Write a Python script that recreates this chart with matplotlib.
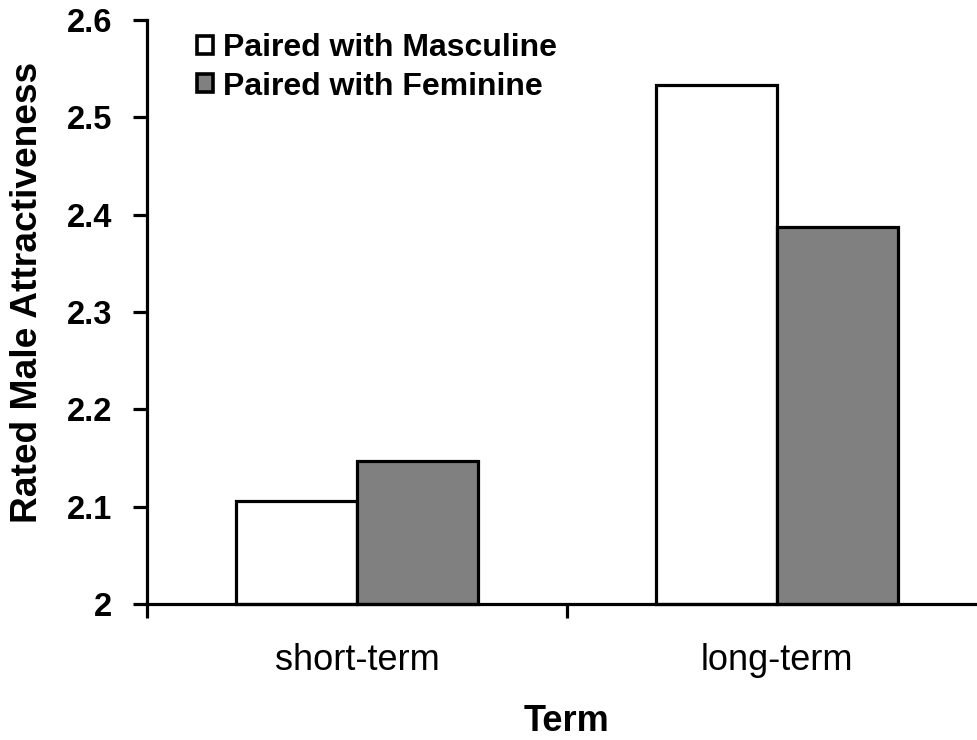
import matplotlib
matplotlib.use("Agg")
import matplotlib.pyplot as plt
import numpy as np
from matplotlib.patches import Patch

categories = ["short-term", "long-term"]
series_names = ["Paired with Masculine", "Paired with Feminine"]
masculine = [2.106, 2.533]
feminine = [2.147, 2.387]
yticks = [2.0, 2.1, 2.2, 2.3, 2.4, 2.5, 2.6]
ytick_labels = ["2", "2.1", "2.2", "2.3", "2.4", "2.5", "2.6"]

plt.rcParams['font.family'] = ['Liberation Sans', 'DejaVu Sans']

fig = plt.figure(figsize=(9.78, 7.40), dpi=100)
W, H = 978, 740
left, right, top, bottom = 147, 987, 20, 604
ax = fig.add_axes([left / W, 1 - bottom / H, (right - left) / W, (bottom - top) / H])

x = np.arange(len(categories))
bw = 0.288
lw = 2.3
ax.bar(x - bw / 2, np.array(masculine) - 2.0, bw, bottom=2.0, color="white",
       edgecolor="black", linewidth=lw, zorder=3, clip_on=False)
ax.bar(x + bw / 2, np.array(feminine) - 2.0, bw, bottom=2.0, color="#808080",
       edgecolor="black", linewidth=lw, zorder=3, clip_on=False)

ax.set_xlim(-0.5, 1.5)
ax.set_ylim(2.0, 2.6)
ax.set_yticks(yticks)
ax.set_yticklabels(ytick_labels, fontsize=23.5, fontweight="bold")
ax.set_xticks([-0.5, 0.5, 1.5])
ax.set_xticklabels([])
ax.set_xticks(x, minor=True)
ax.set_xticklabels(categories, minor=True, fontsize=26)
ax.tick_params(axis="x", which="minor", length=0, pad=28)
ax.tick_params(axis="x", which="major", length=10, width=lw, direction="out")
ax.tick_params(axis="y", length=10, width=lw, direction="out", pad=15)

for s in ["top", "right"]:
    ax.spines[s].set_visible(False)
for s in ["left", "bottom"]:
    ax.spines[s].set_linewidth(lw)
ax.spines["bottom"].set_zorder(4)

ax.set_xlabel("Term", fontsize=26, fontweight="bold")
ax.xaxis.set_label_coords(0.5, -(704 - 604) / 584)
ax.set_ylabel("Rated Male Attractiveness", fontsize=26.7, fontweight="bold")
ax.yaxis.set_label_coords(-0.1214, (604 - 292.5) / 584)

handles = [Patch(facecolor="white", edgecolor="black", linewidth=2.6),
           Patch(facecolor="#808080", edgecolor="black", linewidth=2.6)]
leg = ax.legend(handles, series_names, loc="upper left",
                bbox_to_anchor=(197 / W, 1 - 33 / H), bbox_transform=fig.transFigure,
                frameon=False, prop={"size": 23, "weight": "bold"},
                handlelength=0.5, handleheight=0.5, handletextpad=0.3,
                labelspacing=0.27, borderaxespad=0.0, borderpad=0.0)

fig.savefig("out.png", dpi=100)
